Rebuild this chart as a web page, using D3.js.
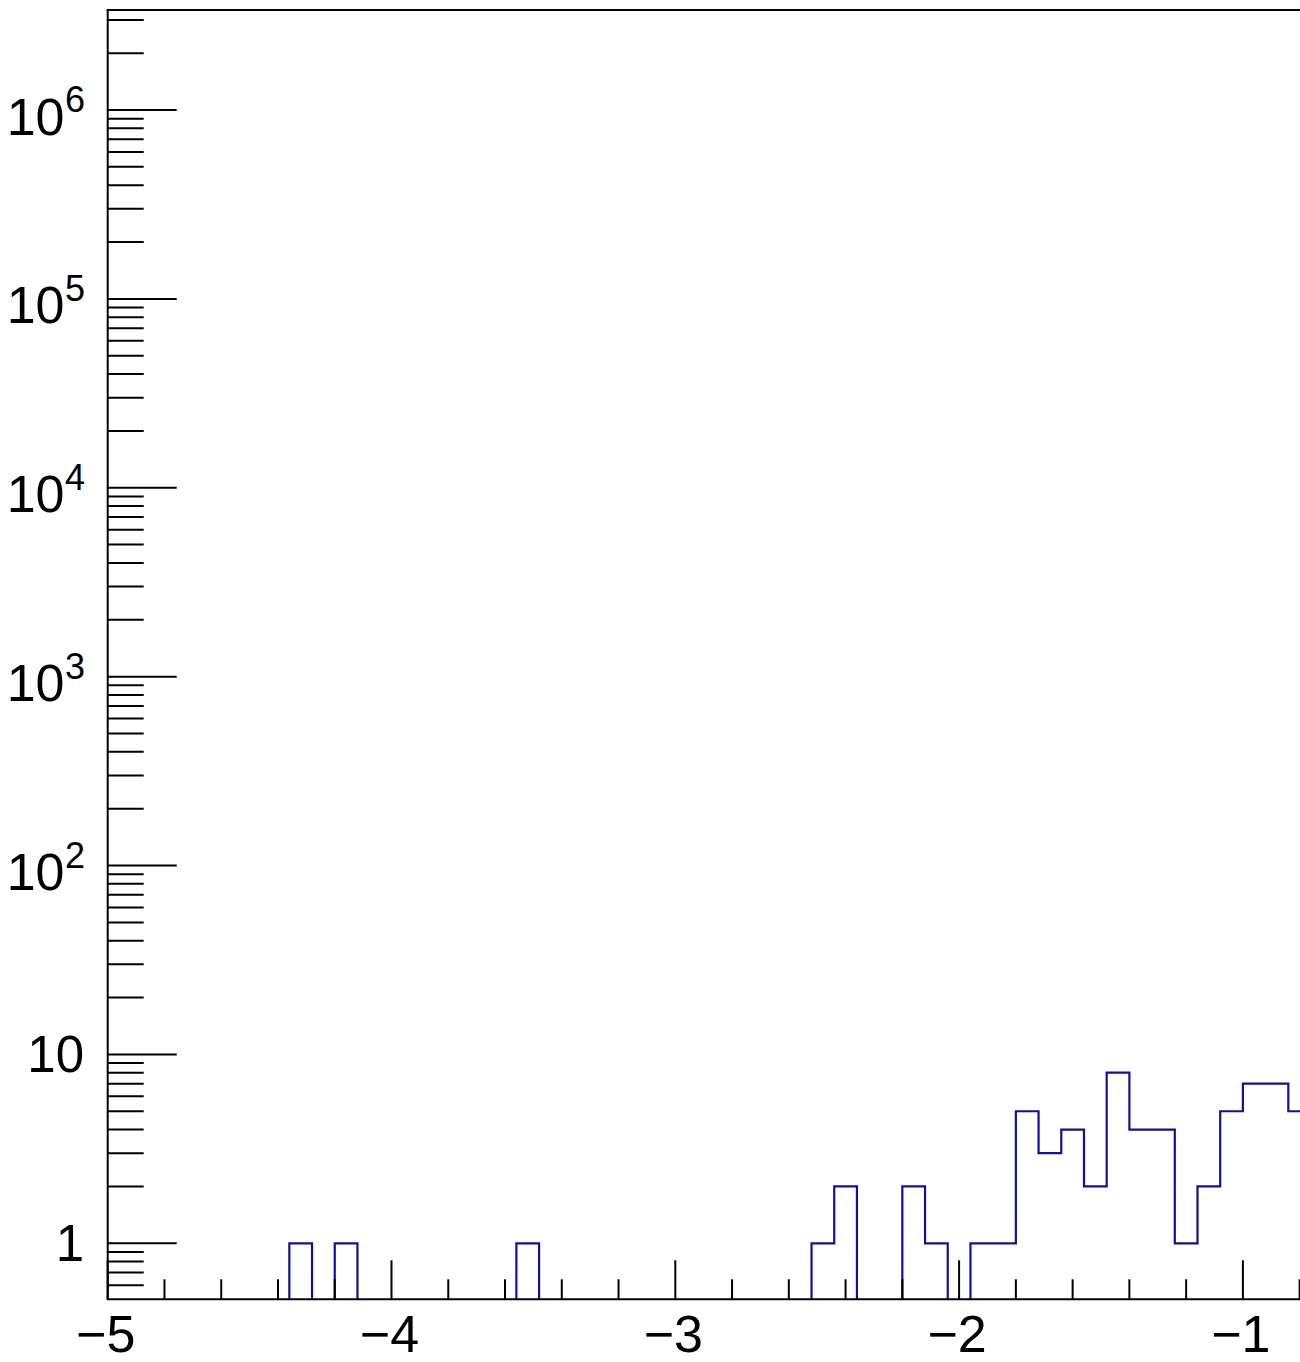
<!DOCTYPE html>
<html>
<head>
<meta charset="utf-8">
<script src="https://cdn.jsdelivr.net/npm/d3@7/dist/d3.min.js"></script>
<style>
  html, body { margin: 0; padding: 0; background: #fff; }
  svg { display: block; }
  text { font-family: "Liberation Sans", Arial, Helvetica, sans-serif; fill: #000; }
</style>
</head>
<body>
<svg id="chart" width="1300" height="1362"></svg>
<script>
// ---- data ----
const binWidth = 0.08;
const binLow = [-4.36, -4.20, -3.56, -2.52, -2.44, -2.20, -2.12, -1.96, -1.88, -1.80,
                -1.72, -1.64, -1.56, -1.48, -1.40, -1.32, -1.24, -1.16, -1.08, -1.00,
                -0.92, -0.84];
const counts = [1, 1, 1, 1, 2, 2, 1, 1, 1, 5,
                3, 4, 2, 8, 4, 4, 1, 2, 5, 7,
                7, 5];
const xMajorTicks = [-5, -4, -3, -2, -1];
const xTickLabels = ["\u22125", "\u22124", "\u22123", "\u22122", "\u22121"];
const yMajorTicks = [1, 10, 100, 1000, 10000, 100000, 1000000];
const yTickLabels = ["1", "10", "10|2", "10|3", "10|4", "10|5", "10|6"];

(function () {
// ---- layout ----
const svg = d3.select("#chart");
const fLeft = 107.7, fBottom = 1299.3, fTop = 10, fRight = 1300;
const pxPerUnit = 283.8;
const pxPerDecade = 188.88;
const yOnePx = 110 + 6 * pxPerDecade;
const yMin = Math.pow(10, -(fBottom - yOnePx) / pxPerDecade);
const yMax = Math.pow(10, (yOnePx - fTop) / pxPerDecade);

const x = d3.scaleLinear().domain([-5, 5]).range([fLeft, fLeft + 10 * pxPerUnit]);
const y = d3.scaleLog().domain([yMin, yMax]).range([fBottom, fTop]);

svg.append("defs").append("clipPath").attr("id", "frameClip")
  .append("rect").attr("x", fLeft).attr("y", fTop).attr("width", fRight - fLeft + 20).attr("height", fBottom - fTop);

// ---- histogram outline ----
const runs = [];
binLow.forEach((lo, i) => {
  const last = runs[runs.length - 1];
  if (last && Math.abs(last[last.length - 1].lo + binWidth - lo) < 1e-6) last.push({lo, c: counts[i]});
  else runs.push([{lo, c: counts[i]}]);
});
const histG = svg.append("g").attr("clip-path", "url(#frameClip)");
runs.forEach(run => {
  const pts = [[x(run[0].lo), y(yMin)]];
  run.forEach(b => {
    pts.push([x(b.lo), y(b.c)]);
    pts.push([x(b.lo + binWidth), y(b.c)]);
  });
  pts.push([x(run[run.length - 1].lo + binWidth), y(yMin)]);
  histG.append("path")
    .attr("d", d3.line()(pts))
    .attr("fill", "none")
    .attr("stroke", "#1010a0")
    .attr("stroke-width", 2.2);
});

// ---- x ticks ----
const axG = svg.append("g").attr("stroke", "#000").attr("stroke-width", 2);
const xMinor = d3.range(-5, -0.6, 0.2).map(v => +v.toFixed(2));
xMinor.forEach(v => {
  const isMajor = xMajorTicks.some(m => Math.abs(m - v) < 1e-6);
  const xp = x(v);
  if (xp > fRight) return;
  axG.append("line").attr("x1", xp).attr("x2", xp)
    .attr("y1", fBottom).attr("y2", fBottom - (isMajor ? 39 : 20));
});

// ---- y ticks ----
for (let k = -1; k <= 6; k++) {
  for (let m = 1; m <= 9; m++) {
    const v = m * Math.pow(10, k);
    if (v <= yMin * 1.001 || v >= yMax) continue;
    const yp = y(v);
    axG.append("line").attr("x1", fLeft).attr("x2", fLeft + (m === 1 ? 69 : 36))
      .attr("y1", yp).attr("y2", yp);
  }
}

// ---- frame ----
axG.append("line").attr("x1", fLeft).attr("x2", fLeft).attr("y1", fTop).attr("y2", fBottom);
axG.append("line").attr("x1", fLeft - 1).attr("x2", fRight).attr("y1", fBottom).attr("y2", fBottom);
axG.append("line").attr("x1", fLeft - 1).attr("x2", fRight).attr("y1", fTop).attr("y2", fTop);

// ---- x labels ----
xMajorTicks.forEach((v, i) => {
  svg.append("text")
    .attr("x", x(v) - 2).attr("y", 1352)
    .attr("text-anchor", "middle")
    .attr("font-size", 52)
    .text(xTickLabels[i]);
});

// ---- y labels ----
yMajorTicks.forEach((v, i) => {
  const lab = yTickLabels[i];
  const yp = y(v);
  if (lab.indexOf("|") < 0) {
    svg.append("text")
      .attr("x", 84).attr("y", yp + 18)
      .attr("text-anchor", "end")
      .attr("font-size", 51)
      .text(lab);
  } else {
    const [base, exp] = lab.split("|");
    const t = svg.append("text")
      .attr("x", 85).attr("y", yp + 24.5)
      .attr("text-anchor", "end")
      .attr("font-size", 52);
    t.append("tspan").text(base);
    t.append("tspan").attr("font-size", 36).attr("dx", 0.5).attr("dy", -22.5).text(exp);
  }
});
})();
</script>
</body>
</html>
